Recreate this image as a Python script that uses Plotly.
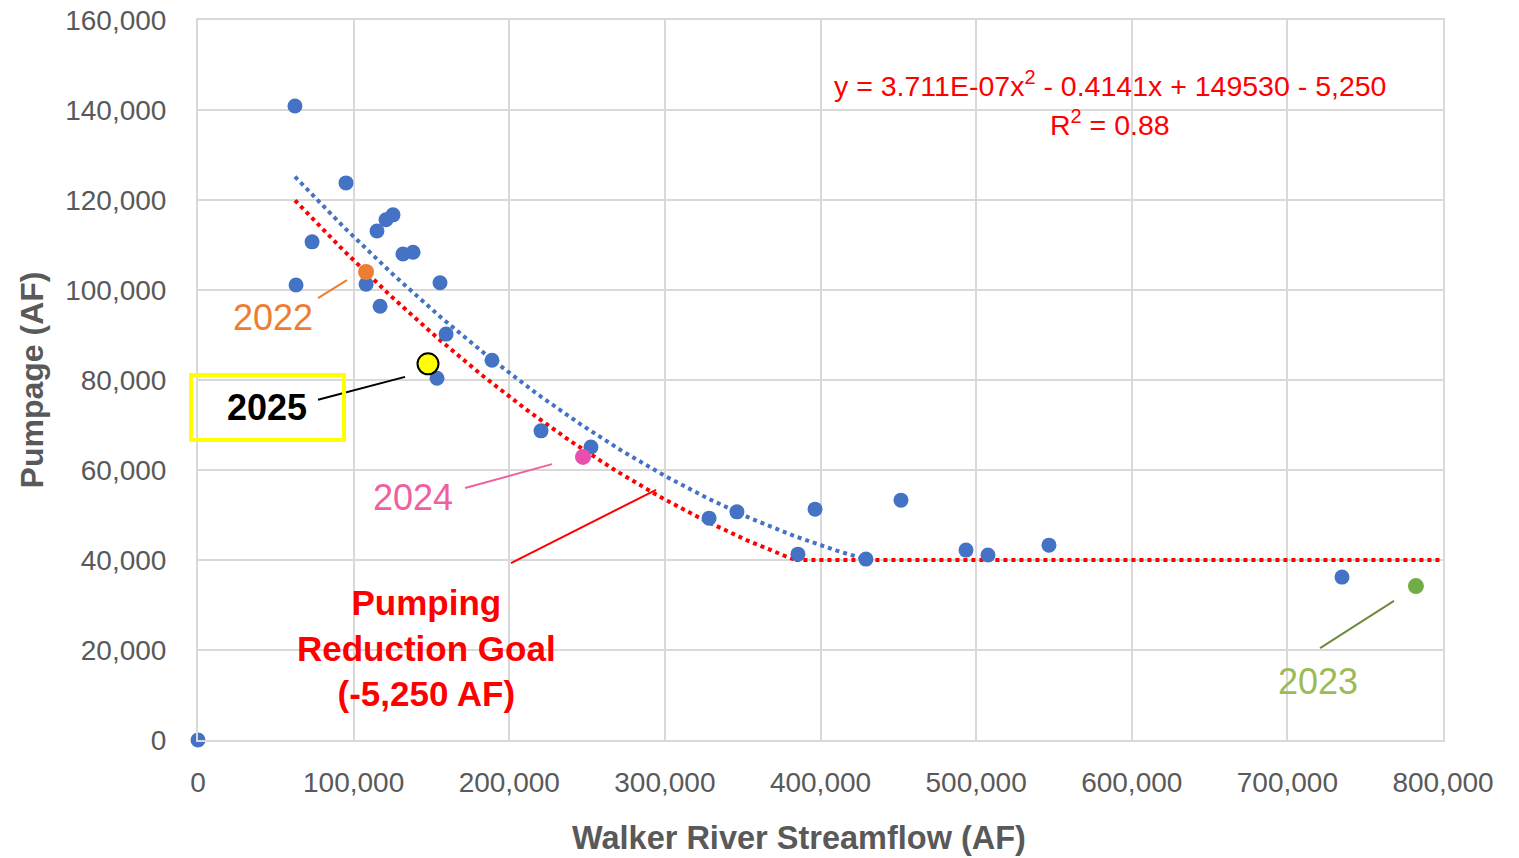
import numpy as np
import plotly.graph_objects as go

# Historical data (AF)
streamflow = [0, 62300, 63000, 73300, 95100, 108000, 115000, 117000, 120800, 125300,
              131700, 138200, 155500, 159400, 153600, 188900, 220400, 252500, 328400,
              346300, 396500, 385500, 429200, 451700, 493500, 507600, 546800, 735100]
pumpage = [0, 140900, 101100, 110700, 123800, 101300, 113100, 96400, 115600, 116700,
           108000, 108400, 101600, 90200, 80400, 84400, 68700, 65100, 49300,
           50700, 51300, 41300, 40200, 53300, 42200, 41100, 43300, 36200]

# Highlighted years
year_labels = ["2022", "2023", "2024", "2025"]
year_flow = [108000, 782600, 247400, 147800]
year_pump = [104000, 34200, 62900, 83600]
year_colors = ["#ED7D31", "#70AD47", "#E84FAE", "#FFFF00"]

# Trendline (from chart equation)
coef_a, coef_b, coef_c = 3.711e-07, -0.4141, 149530
reduction = 5250
floor_pump = 40000
trend_x_range = [62300, 425000]
goal_x_start = 62300
x_max = 800000

BLUE = "#4472C4"
GRAY = "#595959"
GRID = "#D9D9D9"
FONT = "Liberation Sans, Arial, sans-serif"

tx = np.linspace(trend_x_range[0], trend_x_range[1], 200)
ty = coef_a * tx**2 + coef_b * tx + coef_c

# goal curve down to the floor, then flat
disc = coef_b**2 - 4 * coef_a * (coef_c - reduction - floor_pump)
x_floor = (-coef_b - np.sqrt(disc)) / (2 * coef_a)
gx = np.linspace(goal_x_start, x_floor, 200)
gy = coef_a * gx**2 + coef_b * gx + coef_c - reduction

fig = go.Figure()
fig.add_trace(go.Scatter(x=tx, y=ty, mode="lines",
                         line=dict(color=BLUE, width=4, dash="4px,4px"),
                         hoverinfo="skip", showlegend=False))
fig.add_trace(go.Scatter(x=gx, y=gy, mode="lines",
                         line=dict(color="#FF0000", width=4, dash="4px,4px"),
                         hoverinfo="skip", showlegend=False))
fig.add_trace(go.Scatter(x=[x_floor, x_max], y=[floor_pump, floor_pump], mode="lines",
                         line=dict(color="#FF0000", width=4, dash="4px,4px"),
                         hoverinfo="skip", showlegend=False))
fig.add_trace(go.Scatter(x=streamflow, y=pumpage, mode="markers",
                         marker=dict(color=BLUE, size=15), showlegend=False, cliponaxis=False))
for lab, xv, yv, c in zip(year_labels, year_flow, year_pump, year_colors):
    if lab == "2025":
        mk = dict(color=c, size=21, line=dict(color="black", width=2))
    else:
        mk = dict(color=c, size=16)
    fig.add_trace(go.Scatter(x=[xv], y=[yv], mode="markers", marker=mk,
                             name=lab, showlegend=False, cliponaxis=False))

annotations = [
    dict(x=586000, y=145800, text="y = 3.711E-07x<sup>2</sup> - 0.4141x + 149530 - 5,250",
         font=dict(color="#FF0000", size=28.5)),
    dict(x=586000, y=137100, text="R<sup>2</sup> = 0.88", font=dict(color="#FF0000", size=28.5)),
    dict(x=48200, y=93800, text="2022", font=dict(color="#ED7D31", size=36)),
    dict(x=44300, y=73800, text="<b>2025</b>", font=dict(color="black", size=36)),
    dict(x=138200, y=54000, text="2024", font=dict(color="#F0609E", size=36)),
    dict(x=719700, y=12900, text="2023", font=dict(color="#9BBB59", size=36)),
    dict(x=147100, y=20400, text="<b>Pumping<br>Reduction Goal<br>(-5,250 AF)</b>",
         font=dict(color="#FF0000", size=35)),
]
for a in annotations:
    a.update(xref="x", yref="y", showarrow=False)
    a["font"]["family"] = FONT

# x-axis title (slightly left of centre, as in the original)
annotations.append(dict(xref="paper", yref="paper", x=0.4827, y=-0.1361, yanchor="middle",
                        showarrow=False, text="<b>Walker River Streamflow (AF)</b>",
                        font=dict(family=FONT, size=32.5, color=GRAY)))

def seg(x0, y0, x1, y1, color, w):
    return dict(type="line", xref="x", yref="y", x0=x0, y0=y0, x1=x1, y1=y1,
                line=dict(color=color, width=w), layer="above")

shapes = [
    seg(77100, 98200, 95700, 102200, "#ED7D31", 2),
    seg(77100, 75600, 133000, 80700, "black", 2),
    seg(171600, 56000, 227500, 61300, "#F0609E", 2),
    seg(721000, 20400, 768500, 30900, "#6E8B3D", 2),
    seg(201100, 39300, 294300, 55600, "#FF0000", 2),
    dict(type="rect", xref="paper", yref="paper", x0=-0.0056, x1=0.1173, y0=0.4167, y1=0.5069,
         line=dict(color="#FFFF00", width=4), layer="above"),
]

fig.update_layout(
    width=1511, height=850,
    margin=dict(l=190, r=76, t=12, b=118),
    paper_bgcolor="white", plot_bgcolor="white",
    font=dict(family=FONT, color=GRAY, size=28),
    annotations=annotations, shapes=shapes,
    xaxis=dict(range=[0, x_max], dtick=100000, tickformat=",d", automargin=False,
               showgrid=True, gridcolor=GRID, gridwidth=2, ticklabeloverflow="allow",
               zeroline=False, showline=True, linecolor=GRID, linewidth=2, mirror=True,
               ticks="", ticklabelstandoff=16),
    yaxis=dict(range=[0, 160000], dtick=20000, tickformat=",d", automargin=False,
               showgrid=True, gridcolor=GRID, gridwidth=2, ticklabeloverflow="allow",
               zeroline=False, showline=True, linecolor=GRID, linewidth=2, mirror=True,
               ticks="", ticklabelstandoff=24,
               title=dict(text="<b>Pumpage (AF)</b>", font=dict(size=32, color=GRAY), standoff=12)),
)

fig.write_html("out.html")
